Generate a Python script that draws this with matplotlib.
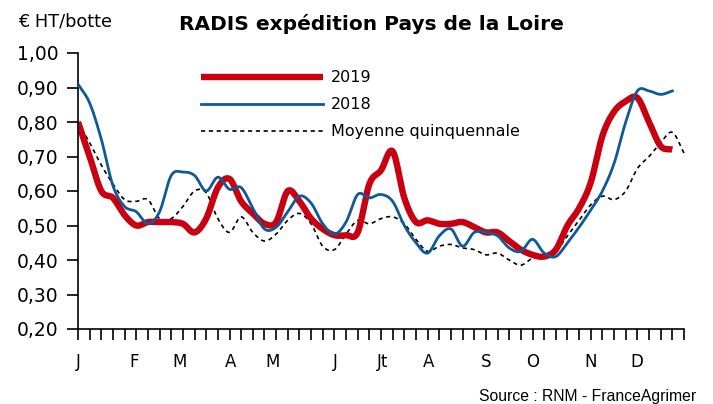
import numpy as np
from matplotlib import pyplot as plt

# semaines 1..52 (moyenne: 1..53)
weeks = np.arange(1, 54)

prix_2019 = [0.80, 0.70, 0.60, 0.58, 0.53, 0.50, 0.51, 0.51, 0.51, 0.505,
             0.48, 0.52, 0.61, 0.635, 0.57, 0.535, 0.505, 0.51, 0.60, 0.57,
             0.52, 0.49, 0.472, 0.472, 0.48, 0.62, 0.66, 0.715, 0.58, 0.51,
             0.515, 0.505, 0.505, 0.51, 0.495, 0.48, 0.48, 0.455, 0.43, 0.415,
             0.41, 0.43, 0.50, 0.55, 0.625, 0.76, 0.83, 0.86, 0.87, 0.80,
             0.73, 0.72]

prix_2018 = [0.91, 0.855, 0.75, 0.615, 0.555, 0.54, 0.505, 0.54, 0.645, 0.655,
             0.645, 0.60, 0.64, 0.605, 0.61, 0.55, 0.49, 0.495, 0.54, 0.585,
             0.565, 0.505, 0.475, 0.51, 0.59, 0.58, 0.59, 0.57, 0.50, 0.45,
             0.42, 0.47, 0.49, 0.44, 0.48, 0.48, 0.47, 0.435, 0.425, 0.46,
             0.42, 0.41, 0.45, 0.495, 0.545, 0.60, 0.68, 0.80, 0.89, 0.89,
             0.88, 0.89]

moyenne_5ans = [0.80, 0.74, 0.675, 0.62, 0.575, 0.57, 0.575, 0.52, 0.52, 0.555,
                0.60, 0.595, 0.52, 0.48, 0.525, 0.48, 0.455, 0.475, 0.515, 0.535,
                0.505, 0.44, 0.43, 0.475, 0.515, 0.505, 0.52, 0.525, 0.505, 0.46,
                0.425, 0.44, 0.445, 0.435, 0.43, 0.415, 0.42, 0.40, 0.385, 0.405,
                0.41, 0.425, 0.47, 0.515, 0.56, 0.585, 0.575, 0.60, 0.665, 0.70,
                0.74, 0.77, 0.71]

mois = ["J", "F", "M", "A", "M", "J", "Jt", "A", "S", "O", "N", "D"]
mois_pos = [1.0, 5.8, 9.75, 14.05, 17.7, 23.05, 27.1, 31.05, 36.0, 40.05, 44.95, 48.98]

yticks = [0.20, 0.30, 0.40, 0.50, 0.60, 0.70, 0.80, 0.90, 1.00]


def lisse(x, y, n=12):
    # courbe lissée type Catmull-Rom (comme Excel)
    x = np.asarray(x, float)
    y = np.asarray(y, float)
    px = np.concatenate([[2 * x[0] - x[1]], x, [2 * x[-1] - x[-2]]])
    py = np.concatenate([[2 * y[0] - y[1]], y, [2 * y[-1] - y[-2]]])
    t = np.linspace(0, 1, n, endpoint=False)
    xs, ys = [], []
    for i in range(1, len(px) - 2):
        for p, out in ((px, xs), (py, ys)):
            p0, p1, p2, p3 = p[i - 1], p[i], p[i + 1], p[i + 2]
            out.extend(0.5 * (2 * p1 + (-p0 + p2) * t
                              + (2 * p0 - 5 * p1 + 4 * p2 - p3) * t ** 2
                              + (-p0 + 3 * p1 - 3 * p2 + p3) * t ** 3))
    xs.append(x[-1])
    ys.append(y[-1])
    return np.array(xs), np.array(ys)


fig = plt.figure(figsize=(7.13, 4.04), dpi=100)
ax = fig.add_axes([78 / 713, 1 - 329 / 404, (684 - 78) / 713, (329 - 53) / 404])

x, y = lisse(weeks[:len(moyenne_5ans)], moyenne_5ans)
ax.plot(x, y, color="black", lw=1.2, dashes=(2.5, 2.2), label="Moyenne quinquennale", clip_on=False, zorder=2)
x, y = lisse(weeks[:len(prix_2018)], prix_2018)
ax.plot(x, y, color="#0f5a96", lw=2.0, label="2018", zorder=3)
x, y = lisse(weeks[:len(prix_2019)], prix_2019)
ax.plot(x, y, color="#c8000f", lw=4.6, label="2019", zorder=2.5, solid_capstyle="butt")

ax.set_xlim(1, 53)
ax.set_ylim(0.2, 1.0)
ax.set_yticks(yticks)
ax.set_yticklabels([f"{v:.2f}".replace(".", ",") for v in yticks], fontsize=13.5)
ax.set_xticks(weeks)
ax.set_xticklabels([])
ax.tick_params(axis="both", direction="out", length=8, width=1.2, color="black")
ax.tick_params(axis="y", pad=6)
for s in ("top", "right"):
    ax.spines[s].set_visible(False)
for s in ("left", "bottom"):
    ax.spines[s].set_linewidth(1.2)

for lab, p in zip(mois, mois_pos):
    ax.text(p, -0.12, lab, transform=ax.get_xaxis_transform(), ha="center", va="center", fontsize=12)

h, l = ax.get_legend_handles_labels()
order = [2, 1, 0]
ax.legend([h[i] for i in order], [l[i] for i in order], loc="upper left",
          bbox_to_anchor=(0.18, 0.99), frameon=False, fontsize=11.5,
          handlelength=7.6, handletextpad=0.5, labelspacing=0.75)

fig.text(371 / 713, 1 - 24 / 404, "RADIS expédition Pays de la Loire", ha="center", va="center",
         fontsize=14.5, fontweight="bold")
fig.text(18 / 713, 1 - 21 / 404, "€ HT/botte", ha="left", va="center", fontsize=12.8)
fig.text(696 / 713, 1 - 396 / 404, "Source : RNM - FranceAgrimer", ha="right", va="center",
         fontsize=11.3, family="Liberation Sans")

fig.savefig("out.png", dpi=100)
